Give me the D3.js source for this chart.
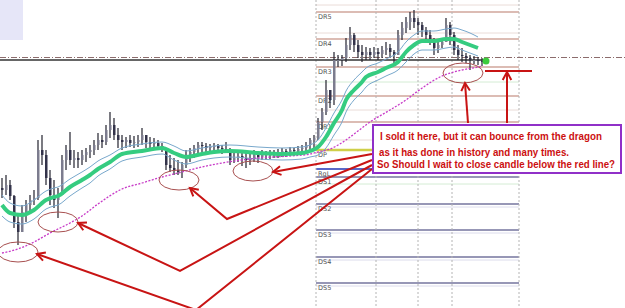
<!DOCTYPE html>
<html>
<head>
<meta charset="utf-8">
<script src="https://cdnjs.cloudflare.com/ajax/libs/d3/7.8.5/d3.min.js"></script>
<style>
body { margin: 0; background: #fff; }
svg { display: block; }
</style>
</head>
<body>
<script>
var width = 625, height = 308;

// price bars (one per period)
var firstOpen = 1.3112;
var highs = [1.3122,1.3125,1.3120,1.3105,1.3085,1.3095,1.3100,1.3105,1.3110,1.3160,
  1.3165,1.3150,1.3130,1.3120,1.3112,1.3145,1.3155,1.3168,1.3150,1.3148,
  1.3150,1.3152,1.3155,1.3160,1.3167,1.3165,1.3175,1.3188,1.3182,1.3172,
  1.3165,1.3163,1.3165,1.3164,1.3165,1.3172,1.3165,1.3163,1.3162,1.3160,
  1.3157,1.3150,1.3145,1.3142,1.3140,1.3138,1.3150,1.3152,1.3155,1.3158,
  1.3158,1.3157,1.3156,1.3157,1.3156,1.3155,1.3158,1.3152,1.3148,1.3150,
  1.3148,1.3147,1.3148,1.3150,1.3148,1.3150,1.3149,1.3150,1.3150,1.3151,
  1.3152,1.3151,1.3153,1.3152,1.3154,1.3155,1.3158,1.3162,1.3165,1.3182,
  1.3192,1.3220,1.3208,1.3248,1.3245,1.3245,1.3262,1.3273,1.3267,1.3260,
  1.3255,1.3253,1.3252,1.3253,1.3252,1.3254,1.3258,1.3256,1.3250,1.3270,
  1.3278,1.3283,1.3288,1.3290,1.3282,1.3278,1.3273,1.3270,1.3262,1.3260,
  1.3262,1.3282,1.3278,1.3268,1.3255,1.3252,1.3247,1.3245,1.3244,1.3243,
  1.3242];
var lows = [1.3102,1.3105,1.3100,1.3072,1.3055,1.3068,1.3078,1.3088,1.3095,1.3100,
  1.3135,1.3115,1.3095,1.3092,1.3082,1.3105,1.3130,1.3135,1.3132,1.3132,
  1.3135,1.3138,1.3142,1.3145,1.3150,1.3152,1.3155,1.3162,1.3160,1.3152,
  1.3150,1.3152,1.3153,1.3152,1.3153,1.3155,1.3152,1.3152,1.3152,1.3150,
  1.3148,1.3130,1.3128,1.3125,1.3125,1.3122,1.3132,1.3138,1.3142,1.3145,
  1.3148,1.3147,1.3148,1.3148,1.3147,1.3146,1.3147,1.3135,1.3137,1.3138,
  1.3134,1.3132,1.3135,1.3138,1.3137,1.3140,1.3140,1.3141,1.3142,1.3142,
  1.3143,1.3143,1.3144,1.3144,1.3145,1.3146,1.3148,1.3150,1.3150,1.3160,
  1.3170,1.3185,1.3192,1.3195,1.3233,1.3234,1.3238,1.3250,1.3248,1.3242,
  1.3238,1.3240,1.3240,1.3242,1.3240,1.3242,1.3245,1.3243,1.3237,1.3245,
  1.3260,1.3267,1.3270,1.3272,1.3265,1.3263,1.3260,1.3255,1.3245,1.3247,
  1.3252,1.3260,1.3255,1.3245,1.3240,1.3238,1.3237,1.3230,1.3236,1.3235,
  1.3234];
var closes = [1.3110,1.3115,1.3104,1.3078,1.3068,1.3088,1.3095,1.3100,1.3102,1.3150,
  1.3145,1.3122,1.3105,1.3100,1.3105,1.3140,1.3150,1.3140,1.3142,1.3140,
  1.3145,1.3148,1.3150,1.3155,1.3160,1.3158,1.3170,1.3175,1.3165,1.3160,
  1.3158,1.3160,1.3157,1.3158,1.3160,1.3165,1.3158,1.3156,1.3157,1.3154,
  1.3152,1.3135,1.3132,1.3130,1.3128,1.3135,1.3145,1.3148,1.3152,1.3155,
  1.3154,1.3152,1.3153,1.3154,1.3152,1.3151,1.3150,1.3140,1.3142,1.3144,
  1.3142,1.3140,1.3142,1.3145,1.3143,1.3146,1.3145,1.3146,1.3147,1.3148,
  1.3149,1.3148,1.3150,1.3149,1.3151,1.3152,1.3155,1.3160,1.3162,1.3178,
  1.3188,1.3210,1.3200,1.3240,1.3240,1.3242,1.3255,1.3265,1.3255,1.3248,
  1.3245,1.3248,1.3245,1.3248,1.3246,1.3250,1.3252,1.3248,1.3245,1.3265,
  1.3272,1.3278,1.3282,1.3278,1.3275,1.3270,1.3265,1.3260,1.3252,1.3255,
  1.3258,1.3275,1.3265,1.3250,1.3245,1.3244,1.3242,1.3240,1.3240,1.3239,
  1.3238];

// "dragon" moving averages, read at these bar numbers
var dragonIdx = [0,2,5,8,11,13,14,17,20,22,24,27,30,35,40,43,46,50,53,57,64,70,75,77,79,81,83,85,86,88,90,91,94,96,99,101,103,105,108,111,113,115,117,119];
var dragonMid = [1.3095,1.3087,1.3085,1.3090,1.3100,1.3103,1.3104,1.3113,1.3120,1.3125,1.3131,1.3138,1.3146,1.3149,1.3152,1.3147,1.3143,1.3146,1.3148,1.3149,1.3147,1.3146,1.3147,1.3149,1.3153,1.3163,1.3177,1.3190,1.3200,1.3210,1.3218,1.3223,1.3228,1.3232,1.3238,1.3248,1.3255,1.3259,1.3259,1.3261,1.3261,1.3258,1.3255,1.3252];
var dragonHigh = [1.3105,1.3097,1.3094,1.3100,1.3109,1.3112,1.3113,1.3121,1.3128,1.3133,1.3139,1.3145,1.3152,1.3156,1.3158,1.3154,1.3149,1.3152,1.3154,1.3155,1.3153,1.3152,1.3153,1.3155,1.3160,1.3172,1.3187,1.3200,1.3209,1.3220,1.3228,1.3232,1.3237,1.3241,1.3248,1.3258,1.3265,1.3269,1.3269,1.3271,1.3272,1.3270,1.3267,1.3263];
var dragonLow = [1.3084,1.3078,1.3076,1.3081,1.3091,1.3094,1.3095,1.3104,1.3112,1.3117,1.3124,1.3131,1.3139,1.3143,1.3146,1.3140,1.3136,1.3140,1.3142,1.3143,1.3141,1.3140,1.3141,1.3143,1.3145,1.3152,1.3165,1.3178,1.3188,1.3200,1.3208,1.3213,1.3220,1.3224,1.3230,1.3238,1.3246,1.3250,1.3250,1.3252,1.3253,1.3250,1.3247,1.3244];

// slow moving average (dotted magenta)
var slowIdx = [0,4,8,12,17,20,24,30,35,40,45,50,55,60,64,72,77,79,82,86,89,92,97,101,104,110,115,119,120];
var slowMa = [1.3047,1.3051,1.3058,1.3067,1.3077,1.3084,1.3096,1.3111,1.3117,1.3123,1.3128,1.3133,1.3137,1.3140,1.3142,1.3144,1.3146,1.3148,1.3151,1.3160,1.3169,1.3178,1.3190,1.3200,1.3209,1.3224,1.3230,1.3233,1.3234];

// daily pivot levels
var levelNames = ["DR5","DR4","DR3","DR2","DR1","DP","RgL","DS1","DS2","DS3","DS4","DS5"];
var levelPrices = [1.3288,1.3261,1.3233,1.3204,1.3178,1.3150,1.3131,1.3123,1.3096,1.3070,1.3043,1.3017];
var minorLevels = [1.3295,1.3267,1.3218,1.3190,1.3160,1.3116];
var sessionIdx = [78.5, 93.5, 104, 112.5, 129.25];

var tradePrice = 1.3240, bidPrice = 1.32425, redLinePrice = 1.3229;

var notes = ["I sold it here, but it can bounce from the dragon",
             "as it has done in history and many times.",
             "So Should I wait to close candle below the red line?"];

var x = d3.scaleLinear().domain([0, 120]).range([2, 482]);
var y = d3.scaleLinear().domain([1.2992, 1.3300]).range([height, 0]);

var svg = d3.select("body").append("svg")
    .attr("width", width)
    .attr("height", height);

svg.append("rect").attr("x", 0).attr("y", 0).attr("width", 23).attr("height", 40).attr("fill", "#e6e6f8");

var lvl = svg.append("g");
var x0 = x(sessionIdx[0]), x1 = x(sessionIdx[sessionIdx.length - 1]);

lvl.selectAll(".minor").data(minorLevels).enter().append("line")
    .attr("x1", x0).attr("x2", x1)
    .attr("y1", function(d) { return y(d); }).attr("y2", function(d) { return y(d); })
    .attr("stroke", function(d, i) { return (i == 2 || i == 5) ? "#d4ecd4" : "#eadcd8"; })
    .attr("stroke-width", 1);

// faint second line under the support levels
lvl.selectAll(".shadow").data(levelPrices.slice(8)).enter().append("line")
    .attr("x1", x0).attr("x2", x1)
    .attr("y1", function(d) { return y(d) + 3; }).attr("y2", function(d) { return y(d) + 3; })
    .attr("stroke", "#dcdcec").attr("stroke-width", 1);

lvl.selectAll(".level").data(levelPrices).enter().append("line")
    .attr("x1", x0).attr("x2", x1)
    .attr("y1", function(d) { return y(d); }).attr("y2", function(d) { return y(d); })
    .attr("stroke", function(d, i) {
      if (i < 5) return "#dcbcb4";
      if (i == 5) return "#cfcf48";
      if (i == 6) return "#5a68c8";
      return "#75759e";
    })
    .attr("stroke-width", function(d, i) { return i == 5 ? 2.5 : (i == 6 ? 2 : (i < 5 ? 2 : 1.5)); });

lvl.selectAll("text").data(levelPrices).enter().append("text")
    .attr("x", x0 + 2)
    .attr("y", function(d) { return y(d) + 7; })
    .attr("font-family", "DejaVu Sans")
    .attr("font-size", 6.5)
    .attr("fill", "#555")
    .text(function(d, i) { return levelNames[i]; });

svg.selectAll(".sess").data(sessionIdx).enter().append("line")
    .attr("x1", function(d) { return x(d); }).attr("x2", function(d) { return x(d); })
    .attr("y1", 0).attr("y2", height)
    .attr("stroke", "#b4b4b4").attr("stroke-dasharray", "2,2");

// current price lines
svg.append("line").attr("x1", 0).attr("x2", width)
    .attr("y1", y(bidPrice)).attr("y2", y(bidPrice))
    .attr("stroke", "#8c6c6c").attr("stroke-dasharray", "6,2,1,2");
svg.append("line").attr("x1", 0).attr("x2", x(120.25))
    .attr("y1", y(tradePrice)).attr("y2", y(tradePrice))
    .attr("stroke", "#333").attr("stroke-width", 1.5);

// candles
var bars = svg.append("g");
closes.forEach(function(c, i) {
  var o = i == 0 ? firstOpen : closes[i - 1];
  bars.append("line")
      .attr("x1", x(i)).attr("x2", x(i))
      .attr("y1", y(highs[i])).attr("y2", y(lows[i]))
      .attr("stroke", "#22222e").attr("stroke-width", 1.2);
  bars.append("rect")
      .attr("x", x(i) - 1).attr("width", 2.5)
      .attr("y", y(Math.max(o, c)))
      .attr("height", Math.max(1, Math.abs(y(o) - y(c))))
      .attr("fill", c >= o ? "#7c7c8e" : "#33334a");
});

var lineOf = function(idx) {
  return d3.line()
    .x(function(d, i) { return x(idx[i]); })
    .y(function(d) { return y(d); })
    .curve(d3.curveMonotoneX);
};

svg.append("path").attr("d", lineOf(dragonIdx)(dragonHigh))
    .attr("fill", "none").attr("stroke", "#78a8cc").attr("stroke-width", 1);
svg.append("path").attr("d", lineOf(dragonIdx)(dragonLow))
    .attr("fill", "none").attr("stroke", "#78a8cc").attr("stroke-width", 1);
svg.append("path").attr("d", lineOf(slowIdx)(slowMa))
    .attr("fill", "none").attr("stroke", "#c83cc8").attr("stroke-width", 1.3)
    .attr("stroke-dasharray", "2,1.5");
svg.append("path").attr("d", lineOf(dragonIdx)(dragonMid))
    .attr("fill", "none").attr("stroke", "#35cc80").attr("stroke-width", 4);

svg.append("circle").attr("cx", x(121)).attr("cy", y(1.3239)).attr("r", 3.5).attr("fill", "#3ccc3c");

// annotations
var ann = svg.append("g");
ann.append("line").attr("x1", x(120.75)).attr("x2", x(132.5))
    .attr("y1", y(redLinePrice)).attr("y2", y(redLinePrice))
    .attr("stroke", "#c81414").attr("stroke-width", 2);

var circles = [[4, 1.3048], [14, 1.3078], [44.25, 1.3120], [62.75, 1.3129], [115.25, 1.3227]];
ann.selectAll("ellipse").data(circles).enter().append("ellipse")
    .attr("cx", function(d) { return x(d[0]); })
    .attr("cy", function(d) { return y(d[1]); })
    .attr("rx", 20).attr("ry", 10)
    .attr("fill", "none").attr("stroke", "#a85050").attr("stroke-width", 1);

var arrows = [
  [[92.5, 1.3131], [48.5, 1.2990], [8.75, 1.3046]],
  [[92.5, 1.3135], [44.5, 1.3029], [19, 1.3077]],
  [[92.5, 1.3140], [56.25, 1.3081], [47, 1.3112]],
  [[92.5, 1.3146], [67.75, 1.3128]],
  [[116.5, 1.3177], [115.75, 1.3217]],
  [[126.25, 1.3177], [126.25, 1.3228]]
];
arrows.forEach(function(a) {
  var pts = a.map(function(p) { return [x(p[0]), y(p[1])]; });
  ann.append("path").attr("d", d3.line()(pts))
      .attr("fill", "none").attr("stroke", "#c81414").attr("stroke-width", 2);
  var p0 = pts[pts.length - 2], p1 = pts[pts.length - 1];
  var ang = Math.atan2(p1[1] - p0[1], p1[0] - p0[0]);
  var head = [ang + Math.PI - 0.5, ang + Math.PI + 0.5].map(function(t) {
    return [p1[0] + 9 * Math.cos(t), p1[1] + 9 * Math.sin(t)];
  });
  ann.append("path").attr("d", d3.line()([head[0], p1, head[1]]))
      .attr("fill", "none").attr("stroke", "#c81414").attr("stroke-width", 2);
});

var bx = x(92.75), by = y(1.3175);
ann.append("rect").attr("x", bx).attr("y", by).attr("width", 248).attr("height", 48)
    .attr("fill", "#fff").attr("stroke", "#9030c8").attr("stroke-width", 2);
var tx = [7, 6, 4], ty = [15, 31, 43], tw = [222, 190, 238];
ann.selectAll(".note").data(notes).enter().append("text")
    .attr("x", function(d, i) { return bx + tx[i]; })
    .attr("y", function(d, i) { return by + ty[i]; })
    .attr("textLength", function(d, i) { return tw[i]; })
    .attr("lengthAdjust", "spacingAndGlyphs")
    .attr("font-family", "Liberation Sans, Arial, sans-serif")
    .attr("font-weight", "bold")
    .attr("font-size", 10)
    .attr("fill", "#cc1010")
    .text(function(d) { return d; });
</script>
</body>
</html>
